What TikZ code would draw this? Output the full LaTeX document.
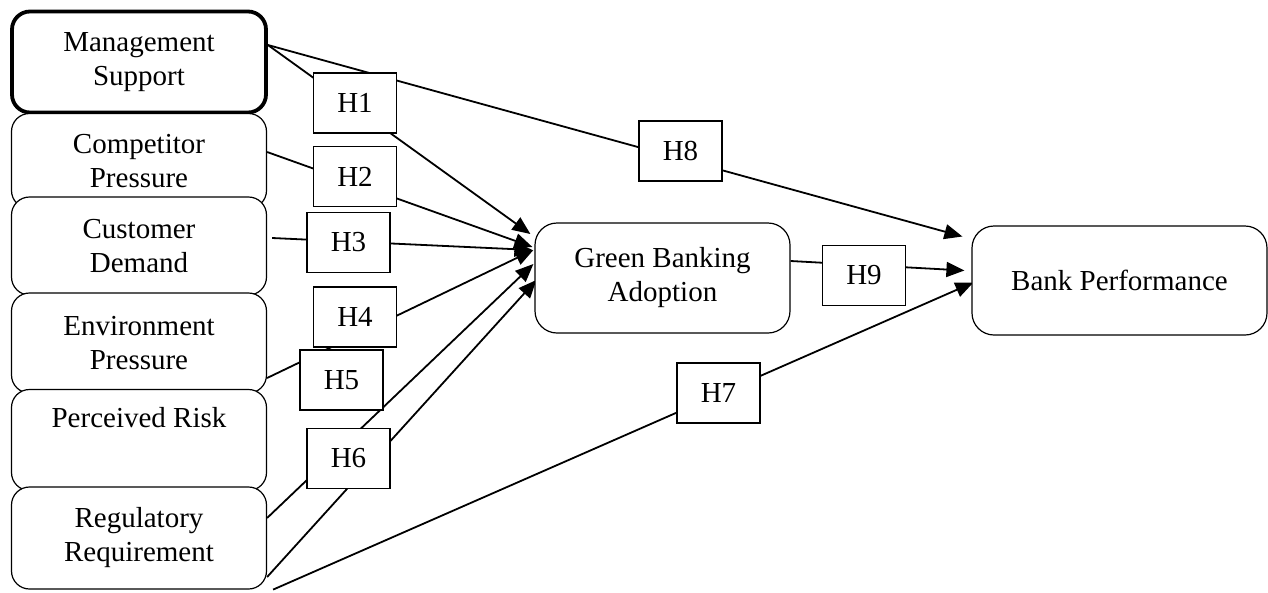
\documentclass[tikz,border=0pt]{standalone}
\usepackage{fontspec}
\setmainfont{Liberation Serif}
\usetikzlibrary{arrows.meta}
\pgfdeclarelayer{background}
\pgfsetlayers{background,main}
\begin{document}
\begin{tikzpicture}[x=1pt,y=-1pt,
  every node/.style={font=\fontsize{29}{34}\selectfont},
  factor/.style={draw, line width=1.2pt, rounded corners=18pt, fill=white,
    align=center, minimum width=255pt, inner sep=0pt},
  construct/.style={draw, line width=1.2pt, rounded corners=22pt, fill=white,
    align=center, inner sep=0pt},
  hyp/.style={draw, line width=1.2pt, fill=white, minimum width=83pt,
    minimum height=60pt, inner sep=0pt},
  link/.style={line width=1.8pt},
  effect/.style={link, -{Triangle[length=18pt,width=15pt]}}]
\useasboundingbox (0,0) rectangle (1268,592);

% antecedent factors, each stacked over the previous one
\node[factor, line width=3.8pt, minimum width=254pt, minimum height=101pt] (ms) at (139,62) {Management\\Support};
\node[factor, minimum height=95pt] (cp) at (139,161) {Competitor\\Pressure};
\node[factor, minimum height=98pt] (cd) at (139,246) {Customer\\Demand};
\node[factor, minimum height=100pt] (ep) at (139,343) {Environment\\Pressure};
\node[factor, minimum height=101pt] (pr) at (139,440) {Perceived Risk\\\strut};
\node[factor, minimum height=102pt] (rr) at (139,538) {Regulatory\\Requirement};

% mediator and outcome
\node[construct, minimum width=255pt, minimum height=110pt] (gba) at (662.5,278) {Green Banking\\Adoption};
\node[construct, minimum width=295pt, minimum height=109pt] (bp) at (1119.5,280.5) {Bank Performance};

% hypothesis labels
\node[hyp] (h1) at (355,103) {H1};
\node[hyp] (h2) at (355,176.5) {H2};
\node[hyp] (h3) at (348.5,242.5) {H3};
\node[hyp] (h4) at (355,317) {H4};
\node[hyp] (h5) at (341.5,380) {H5};
\node[hyp] (h6) at (348.5,458.5) {H6};
\node[hyp] (h7) at (718.5,393) {H7};
\node[hyp] (h8) at (680.5,151) {H8};
\node[hyp] (h9) at (864,275.5) {H9};

% paths, drawn behind the labels
\begin{pgfonlayer}{background}
\draw[effect] ([yshift=17pt]ms.east) -- ([xshift=-4pt,yshift=44pt]gba.west);
\draw[effect] ([yshift=9pt]cp.east) -- ([xshift=-2pt,yshift=31pt]gba.west);
\draw[effect] ([xshift=5pt,yshift=8pt]cd.east) -- ([xshift=-2pt,yshift=28pt]gba.west);
\draw[effect] ([yshift=-35pt]ep.east) -- ([xshift=-1pt,yshift=28pt]gba.west);
\draw[effect] ([yshift=20pt]rr.east) -- ([xshift=-1pt,yshift=14pt]gba.west);
\draw[effect] ([yshift=-39pt]rr.east) -- ([xshift=2pt,yshift=-2pt]gba.west);
\draw[effect] ([xshift=6pt]rr.south east) -- ([xshift=2pt,yshift=-2pt]bp.west);
\draw[effect] ([yshift=17pt]ms.east) -- ([xshift=-9pt,yshift=44pt]bp.west);
\draw[effect] ([yshift=17pt]gba.east) -- ([xshift=-7pt,yshift=10pt]bp.west);
\end{pgfonlayer}
\end{tikzpicture}
\end{document}
